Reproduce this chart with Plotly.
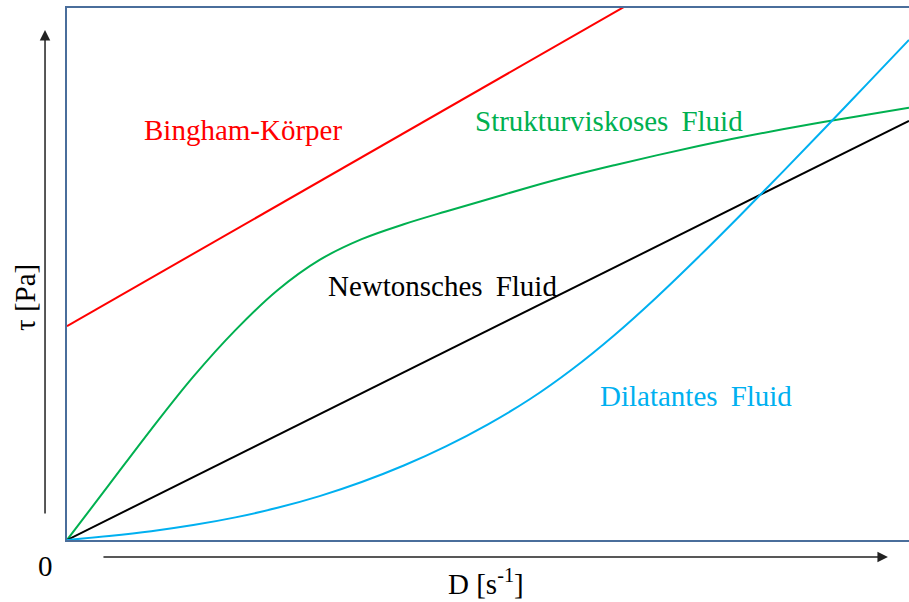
import plotly.graph_objects as go

# Shear rate D (arbitrary units) and shear stress tau (arbitrary units)
newton_x = [0, 10]
newton_y = [0, 7.88]

bingham_x = [0, 10]
bingham_y = [4.02, 13.09]

struktur_x = [0, 0.5, 1.0, 1.5, 2.0, 2.5, 3.0, 3.5, 4.0, 4.5, 5.0, 5.5, 6.0, 6.5, 7.0, 7.5, 8.0, 8.5, 9.0, 9.5, 10.0]
struktur_y = [0, 1.04, 2.08, 3.07, 3.945, 4.695, 5.265, 5.655, 5.935, 6.175, 6.405, 6.635, 6.85, 7.045, 7.23, 7.405, 7.57, 7.72, 7.86, 7.995, 8.125]

dilatant_x = [0, 0.5, 1.0, 1.5, 2.0, 2.5, 3.0, 3.5, 4.0, 4.5, 5.0, 5.5, 6.0, 6.5, 7.0, 7.5, 8.0, 8.5, 9.0, 9.5, 10.0]
dilatant_y = [0, 0.075, 0.165, 0.28, 0.425, 0.605, 0.825, 1.09, 1.40, 1.76, 2.175, 2.65, 3.21, 3.85, 4.56, 5.32, 6.11, 6.92, 7.74, 8.57, 9.40]

labels = ["Bingham-Körper", "Strukturviskoses\u2009 Fluid", "Newtonsches\u2009 Fluid", "Dilatantes\u2009 Fluid"]
label_x = [2.09, 6.44, 4.46, 7.47]
label_y = [7.70, 7.87, 4.77, 2.71]

RED = "#ff0000"
GREEN = "#00b050"
BLUE = "#00b0f0"
BLACK = "#000000"
BOX = "#4a6e9b"
FONT = "Liberation Serif, Times New Roman, serif"

fig = go.Figure()
fig.add_trace(go.Scatter(x=bingham_x, y=bingham_y, mode="lines", line=dict(color=RED, width=2)))
fig.add_trace(go.Scatter(x=struktur_x, y=struktur_y, mode="lines",
                         line=dict(color=GREEN, width=2, shape="spline", smoothing=1.0, simplify=False)))
fig.add_trace(go.Scatter(x=newton_x, y=newton_y, mode="lines", line=dict(color=BLACK, width=2)))
fig.add_trace(go.Scatter(x=dilatant_x, y=dilatant_y, mode="lines",
                         line=dict(color=BLUE, width=2, shape="spline", smoothing=1.0, simplify=False)))

colors = [RED, GREEN, BLACK, BLUE]
for t, x, y, c in zip(labels, label_x, label_y, colors):
    fig.add_annotation(x=x, y=y, xref="x", yref="y", text=t, showarrow=False,
                       font=dict(family=FONT, size=29, color=c))

# axis arrows
fig.add_annotation(x=-0.0261, y=0.9586, xref="paper", yref="paper", text="",
                   showarrow=True, ax=0, ay=485, arrowhead=2, arrowsize=1.4,
                   arrowwidth=1.5, arrowcolor="#222222")
fig.add_annotation(x=0.975, y=-0.032, xref="paper", yref="paper", text="",
                   showarrow=True, ax=-786, ay=0, arrowhead=2, arrowsize=1.4,
                   arrowwidth=1.5, arrowcolor="#222222")

# axis texts
fig.add_annotation(x=-0.0261, y=-0.0489, xref="paper", yref="paper", text="0",
                   xanchor="center", yanchor="middle",
                   showarrow=False, font=dict(family=FONT, size=29, color="black"))
fig.add_annotation(x=0.4976, y=-0.0789, xref="paper", yref="paper", text="D [s<sup>-1</sup>]",
                   xanchor="center", yanchor="middle",
                   showarrow=False, font=dict(family=FONT, size=29, color="black"))
fig.add_annotation(x=-0.0499, y=0.4568, xref="paper", yref="paper", text="τ [Pa]",
                   xanchor="center", yanchor="middle",
                   showarrow=False, textangle=-90, font=dict(family=FONT, size=29, color="black"))

fig.update_xaxes(range=[0, 10], showgrid=False, zeroline=False, showticklabels=False,
                 ticks="", showline=True, linecolor=BOX, linewidth=2, mirror=True)
fig.update_yaxes(range=[0, 10], showgrid=False, zeroline=False, showticklabels=False,
                 ticks="", showline=True, linecolor=BOX, linewidth=2, mirror=False)

fig.update_layout(width=909, height=602, margin=dict(l=67, r=0, t=8, b=62),
                  plot_bgcolor="white", paper_bgcolor="white", showlegend=False)

fig.write_html("out.html", config={"displayModeBar": False},
               post_script="document.body.style.margin='0px';document.body.style.overflow='hidden';")
